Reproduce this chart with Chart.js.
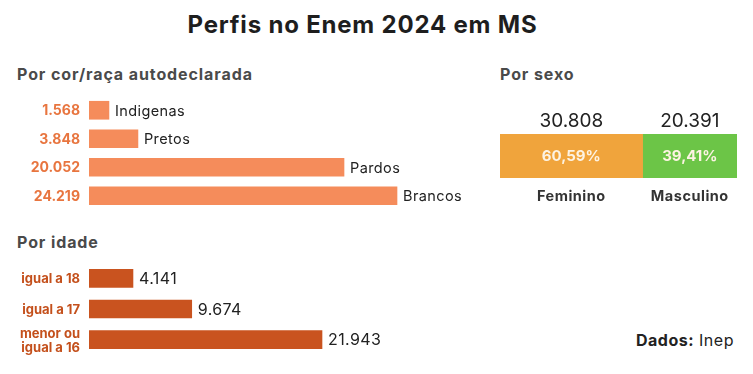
<!DOCTYPE html>
<html>
<head>
<meta charset="utf-8">
<script src="https://cdn.jsdelivr.net/npm/chart.js@4.4.1/dist/chart.umd.min.js"></script>
<style>
  body { margin: 0; width: 753px; height: 374px; background: #fff; position: relative; overflow: hidden;
         font-family: Inter, "Open Sans", sans-serif; }
  .t { position: absolute; white-space: nowrap; line-height: 1; }
  .h { font-size: 16px; font-weight: 700; color: #4a4a4a; letter-spacing: 0.9px; }
  canvas { position: absolute; }
</style>
</head>
<body>
<div class="t" style="left:-14px;width:753px;text-align:center;top:13px;font-size:24px;font-weight:700;color:#1e1e1e;letter-spacing:0.8px">Perfis no Enem 2024 em MS</div>
<div class="t h" style="left:17px;top:66px">Por cor/raça autodeclarada</div>
<div class="t h" style="left:17px;top:234px">Por idade</div>
<div class="t h" style="left:500px;top:66px">Por sexo</div>
<div class="t" style="left:636px;top:332px;font-size:16px;color:#222;letter-spacing:0.5px"><b>Dados:</b> Inep</div>

<canvas id="racaChart" width="480" height="114" style="left:0;top:96px"></canvas>
<canvas id="idadeChart" width="480" height="92" style="left:0;top:263px"></canvas>
<canvas id="sexoChart" width="273" height="115" style="left:480px;top:100px"></canvas>

<script>
// dados (Inep)
const racaCategorias = ['Indigenas', 'Pretos', 'Pardos', 'Brancos'];
const racaValores = [1568, 3848, 20052, 24219];

const idadeCategorias = [['igual a 18'], ['igual a 17'], ['menor ou', 'igual a 16']];
const idadeValores = [4141, 9674, 21943];

const sexoCategorias = ['Feminino', 'Masculino'];
const sexoValores = [30808, 20391];
const sexoPercentuais = ['60,59%', '39,41%'];

const FONT = 'Inter, "Open Sans", sans-serif';
const fmt = v => String(v).replace(/\B(?=(\d{3})+(?!\d))/g, '.');

// labels: left side (right aligned at x=80) and after the bar end
function barLabels(opts) {
  return {
    id: 'barLabels',
    afterDatasetsDraw(chart) {
      const ctx = chart.ctx;
      const meta = chart.getDatasetMeta(0);
      ctx.save();
      ctx.textBaseline = 'middle';
      meta.data.forEach((bar, i) => {
        // left label
        const left = opts.left(i);
        ctx.font = opts.leftFont;
        ctx.fillStyle = opts.leftColor;
        ctx.textAlign = 'right';
        const lines = Array.isArray(left) ? left : [left];
        const lh = opts.lineHeight || 13;
        lines.forEach((ln, k) => {
          ctx.fillText(ln, 80, bar.y + (k - (lines.length - 1) / 2) * lh + 1);
        });
        // right label
        ctx.font = opts.rightFont;
        ctx.fillStyle = '#222';
        ctx.textAlign = 'left';
        ctx.letterSpacing = '0.4px';
        ctx.fillText(opts.right(i), bar.x + 6, bar.y + 1);
        ctx.letterSpacing = '0px';
      });
      ctx.restore();
    }
  };
}

function hBar(id, labels, values, color, xMax, plugin) {
  return new Chart(document.getElementById(id).getContext('2d'), {
    type: 'bar',
    data: {
      labels: labels,
      datasets: [{ data: values, backgroundColor: color, borderWidth: 0, barThickness: 18 }]
    },
    options: {
      indexAxis: 'y',
      responsive: false,
      animation: false,
      layout: { padding: { left: 89, right: 0, top: 0, bottom: 0 } },
      scales: {
        x: { display: false, min: 0, max: xMax },
        y: { display: false }
      },
      plugins: { legend: { display: false }, tooltip: { enabled: false } }
    },
    plugins: [plugin]
  });
}

hBar('racaChart', racaCategorias, racaValores, '#f58c5b', 30745, barLabels({
  left: i => fmt(racaValores[i]),
  leftFont: '700 14px ' + FONT,
  leftColor: '#e8753f',
  right: i => racaCategorias[i],
  rightFont: '14.5px ' + FONT
}));

hBar('idadeChart', idadeCategorias, idadeValores, '#c9531f', 36823, barLabels({
  left: i => idadeCategorias[i],
  leftFont: '700 13px ' + FONT,
  leftColor: '#c4501c',
  lineHeight: 14,
  right: i => fmt(idadeValores[i]),
  rightFont: '16px ' + FONT
}));

// sexo: barra empilhada
const sexoColors = ['#f0a43c', '#6cc547'];
new Chart(document.getElementById('sexoChart').getContext('2d'), {
  type: 'bar',
  data: {
    labels: ['Sexo'],
    datasets: sexoCategorias.map((c, i) => ({
      label: c,
      data: [sexoValores[i]],
      backgroundColor: sexoColors[i],
      borderWidth: 0,
      barPercentage: 1,
      categoryPercentage: 1
    }))
  },
  options: {
    indexAxis: 'y',
    responsive: false,
    animation: false,
    layout: { padding: { left: 20, right: 16, top: 34, bottom: 37 } },
    scales: {
      x: { display: false, stacked: true, min: 0, max: sexoValores[0] + sexoValores[1] },
      y: { display: false, stacked: true }
    },
    plugins: { legend: { display: false }, tooltip: { enabled: false } }
  },
  plugins: [{
    id: 'sexoLabels',
    afterDatasetsDraw(chart) {
      const ctx = chart.ctx;
      ctx.save();
      ctx.textAlign = 'center';
      ctx.textBaseline = 'middle';
      sexoCategorias.forEach((c, i) => {
        const bar = chart.getDatasetMeta(i).data[0];
        const cx = (bar.x + bar.base) / 2;
        const top = bar.y - bar.height / 2;
        const bottom = bar.y + bar.height / 2;
        ctx.font = '19px ' + FONT;
        ctx.fillStyle = '#222';
        ctx.fillText(fmt(sexoValores[i]), cx, top - 13);
        ctx.font = '700 15px ' + FONT;
        ctx.fillStyle = '#fdf3e3';
        ctx.fillText(sexoPercentuais[i], cx, bar.y);
        ctx.font = '700 14.5px ' + FONT;
        ctx.fillStyle = '#333';
        ctx.letterSpacing = '0.5px';
        ctx.fillText(c, cx, bottom + 19);
        ctx.letterSpacing = '0px';
      });
      ctx.restore();
    }
  }]
});
</script>
</body>
</html>
